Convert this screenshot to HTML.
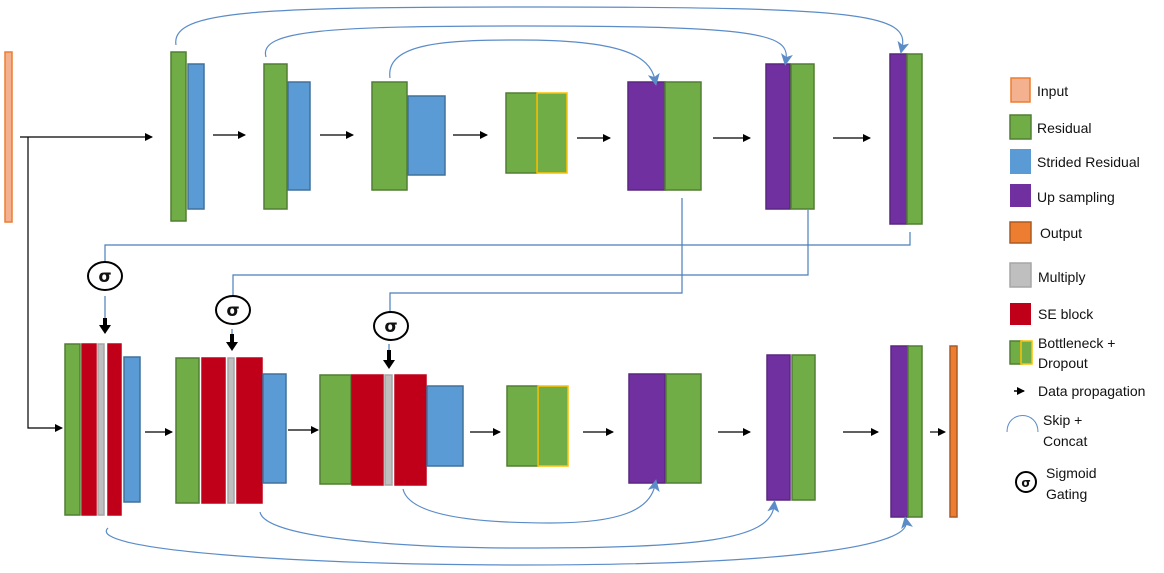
<!DOCTYPE html>
<html><head><style>body{margin:0;background:#fff}svg{display:block}text{font-family:"Liberation Sans",sans-serif;font-size:14px;fill:#111}</style></head><body>
<svg width="1164" height="573" viewBox="0 0 1164 573" xmlns="http://www.w3.org/2000/svg">
<defs><marker id="a" markerWidth="8" markerHeight="8" refX="7" refY="4" orient="auto" markerUnits="userSpaceOnUse"><path d="M0,0L8,4L0,8z" fill="#000"/></marker>
<marker id="b" markerWidth="12" markerHeight="12" refX="6" refY="6" orient="auto" markerUnits="userSpaceOnUse"><path d="M0,0L12,6L0,12L3,6z" fill="#5b8cc8"/></marker></defs>
<g stroke-width="1.5">
<rect x="5" y="52" width="7" height="170" fill="#f4b18f" stroke="#ed7d31"/>
<!-- top row -->
<rect x="171" y="52" width="15" height="169" fill="#70ad47" stroke="#507e32"/>
<rect x="188" y="64" width="16" height="145" fill="#5b9bd5" stroke="#41719c"/>
<rect x="264" y="64" width="23" height="145" fill="#70ad47" stroke="#507e32"/>
<rect x="288" y="82" width="22" height="108" fill="#5b9bd5" stroke="#41719c"/>
<rect x="372" y="82" width="35" height="108" fill="#70ad47" stroke="#507e32"/>
<rect x="408" y="96" width="37" height="79" fill="#5b9bd5" stroke="#41719c"/>
<rect x="506" y="93" width="31" height="80" fill="#70ad47" stroke="#507e32"/>
<rect x="537" y="93" width="30" height="80" fill="#70ad47" stroke="#ffc000"/>
<rect x="628" y="82" width="37" height="108" fill="#7030a0" stroke="#5a2680"/>
<rect x="665" y="82" width="36" height="108" fill="#70ad47" stroke="#507e32"/>
<rect x="766" y="64" width="24" height="145" fill="#7030a0" stroke="#5a2680"/>
<rect x="791" y="64" width="23" height="145" fill="#70ad47" stroke="#507e32"/>
<rect x="890" y="54" width="17" height="170" fill="#7030a0" stroke="#5a2680"/>
<rect x="907" y="54" width="15" height="170" fill="#70ad47" stroke="#507e32"/>
<!-- bottom row -->
<rect x="65" y="344" width="15" height="171" fill="#70ad47" stroke="#507e32"/>
<rect x="82" y="344" width="14" height="171" fill="#c00018" stroke="#c00018"/>
<rect x="98" y="344" width="6" height="171" fill="#bfbfbf" stroke="#a5a5a5"/>
<rect x="108" y="344" width="13" height="171" fill="#c00018" stroke="#c00018"/>
<rect x="124" y="357" width="16" height="145" fill="#5b9bd5" stroke="#41719c"/>
<rect x="176" y="358" width="23" height="145" fill="#70ad47" stroke="#507e32"/>
<rect x="202" y="358" width="23" height="145" fill="#c00018" stroke="#c00018"/>
<rect x="228" y="358" width="6" height="145" fill="#bfbfbf" stroke="#a5a5a5"/>
<rect x="237" y="358" width="25" height="145" fill="#c00018" stroke="#c00018"/>
<rect x="263" y="374" width="23" height="109" fill="#5b9bd5" stroke="#41719c"/>
<rect x="320" y="375" width="31" height="109" fill="#70ad47" stroke="#507e32"/>
<rect x="352" y="375" width="31" height="110" fill="#c00018" stroke="#c00018"/>
<rect x="385" y="375" width="7" height="110" fill="#bfbfbf" stroke="#a5a5a5"/>
<rect x="395" y="375" width="31" height="110" fill="#c00018" stroke="#c00018"/>
<rect x="427" y="386" width="36" height="80" fill="#5b9bd5" stroke="#41719c"/>
<rect x="507" y="386" width="31" height="80" fill="#70ad47" stroke="#507e32"/>
<rect x="538" y="386" width="30" height="80" fill="#70ad47" stroke="#ffc000"/>
<rect x="629" y="374" width="36" height="109" fill="#7030a0" stroke="#5a2680"/>
<rect x="666" y="374" width="35" height="109" fill="#70ad47" stroke="#507e32"/>
<rect x="767" y="355" width="23" height="145" fill="#7030a0" stroke="#5a2680"/>
<rect x="792" y="355" width="23" height="145" fill="#70ad47" stroke="#507e32"/>
<rect x="891" y="346" width="17" height="171" fill="#7030a0" stroke="#5a2680"/>
<rect x="908" y="346" width="14" height="171" fill="#70ad47" stroke="#507e32"/>
<rect x="950" y="346" width="7" height="171" fill="#ed7d31" stroke="#ae5a21"/>
</g>
<!-- arrows -->
<g stroke="#000" stroke-width="1.2" fill="none" marker-end="url(#a)">
<path d="M20,137H152"/><path d="M28,137V428H62"/>
<path d="M213,135H245"/><path d="M320,135H353"/><path d="M453,135H487"/><path d="M577,138H610"/><path d="M713,138H750"/><path d="M833,138H870"/>
<path d="M145,432H172"/><path d="M288,430H318"/><path d="M470,432H500"/><path d="M583,432H613"/><path d="M718,432H750"/><path d="M843,432H878"/><path d="M930,432H945"/>
</g>
<!-- sigma gating lines -->
<g stroke="#4a7ebb" stroke-width="1.2" fill="none">
<path d="M105,261V245H910V232"/><path d="M233,296V275H808V210"/><path d="M390,312V293H682V198"/>
<path d="M105,296V325"/><path d="M232,329V342"/><path d="M389,344V360"/>
</g>
<g fill="#000">
<path d="M99,325h12l-6,9z"/><path d="M226,342h12l-6,9z"/><path d="M383,360h12l-6,9z"/>
<rect x="103" y="318" width="4" height="8"/><rect x="230" y="334" width="4" height="9"/><rect x="387" y="350" width="4" height="11"/>
</g>
<g fill="#fff" stroke="#000" stroke-width="2">
<ellipse cx="105" cy="276" rx="17" ry="14"/><ellipse cx="233" cy="310" rx="17" ry="14"/><ellipse cx="391" cy="326" rx="17" ry="14"/>
</g>
<g font-weight="bold" text-anchor="middle"><text x="105" y="282" style="font-size:17px;font-family:'DejaVu Sans'">σ</text><text x="233" y="316" style="font-size:17px;font-family:'DejaVu Sans'">σ</text><text x="391" y="332" style="font-size:17px;font-family:'DejaVu Sans'">σ</text></g>
<!-- skip arcs -->
<g stroke="#5b8cc8" stroke-width="1.2" fill="none" marker-end="url(#b)">
<path d="M176,45C170,10 260,7 540,7C860,7 910,14 902,48"/>
<path d="M266,57C258,30 330,26 525,26C760,26 790,34 786,60"/>
<path d="M390,78C385,42 450,40 520,40C620,40 650,55 655,80"/>
<path d="M108,528C85,550 300,565 520,565C800,565 910,545 906,522"/>
<path d="M260,512C265,540 420,548 520,548C700,548 770,540 774,506"/>
<path d="M403,489C410,520 500,523 550,523C620,523 650,510 655,485"/>
</g>
<!-- legend -->
<g stroke-width="1.5">
<rect x="1011" y="78" width="19" height="24" fill="#f4b18f" stroke="#ed7d31"/>
<rect x="1010" y="115" width="21" height="24" fill="#70ad47" stroke="#507e32"/>
<rect x="1010" y="149" width="21" height="25" fill="#5b9bd5"/>
<rect x="1010" y="184" width="21" height="23" fill="#7030a0"/>
<rect x="1010" y="222" width="21" height="21" fill="#ed7d31" stroke="#ae5a21"/>
<rect x="1010" y="263" width="21" height="24" fill="#bfbfbf" stroke="#a5a5a5"/>
<rect x="1010" y="303" width="21" height="22" fill="#c00018"/>
<rect x="1010" y="341" width="12" height="23" fill="#70ad47" stroke="#507e32"/>
<rect x="1021" y="341" width="11" height="23" fill="#70ad47" stroke="#ffc000"/>
</g>
<path d="M1014,391H1024" stroke="#000" stroke-width="1.5" marker-end="url(#a)"/>
<path d="M1007,432C1007,410 1038,410 1038,432" stroke="#5b8cc8" fill="none"/>
<ellipse cx="1026" cy="482" rx="10" ry="10" fill="#fff" stroke="#000" stroke-width="2"/>
<text x="1026" y="487" text-anchor="middle" font-weight="bold" style="font-size:12px;font-family:'DejaVu Sans'">σ</text>
<g>
<text x="1037" y="96">Input</text><text x="1037" y="133">Residual</text><text x="1037" y="167">Strided Residual</text><text x="1037" y="202">Up sampling</text>
<text x="1040" y="238">Output</text><text x="1038" y="282">Multiply</text><text x="1038" y="319">SE block</text>
<text x="1038" y="348">Bottleneck +</text><text x="1038" y="368">Dropout</text><text x="1038" y="396">Data propagation</text>
<text x="1043" y="425">Skip +</text><text x="1043" y="446">Concat</text><text x="1046" y="478">Sigmoid</text><text x="1046" y="499">Gating</text>
</g>
</svg></body></html>
